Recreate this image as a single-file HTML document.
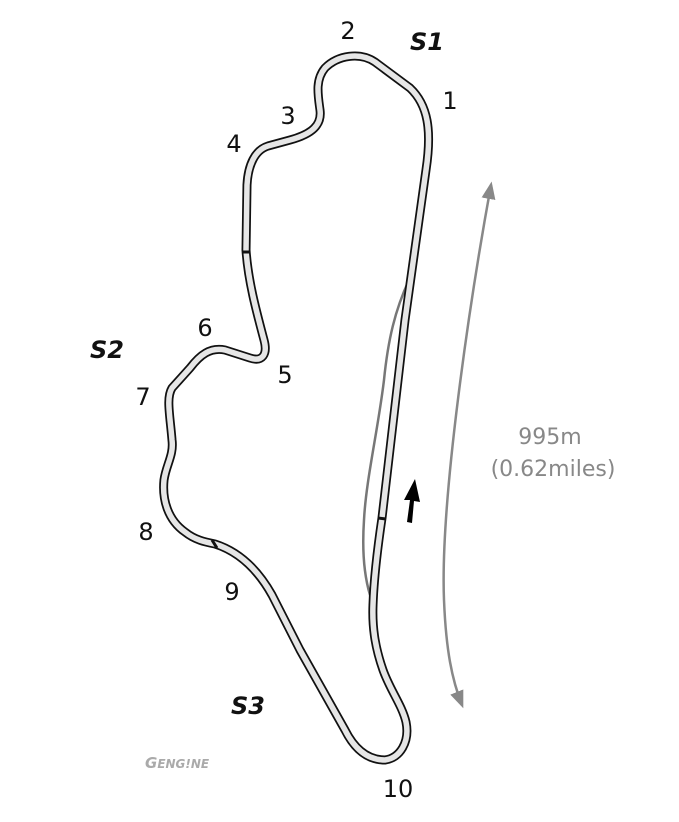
<!DOCTYPE html>
<html><head><meta charset="utf-8"><style>
html,body{margin:0;padding:0;background:#fff;}
svg{display:block;}
text{font-family:"DejaVu Sans","Liberation Sans",sans-serif;}
</style></head><body>
<svg width="679" height="822" viewBox="0 0 679 822" xmlns="http://www.w3.org/2000/svg">
<defs>
<marker id="ah" viewBox="0 0 10 10" refX="8" refY="5" markerWidth="7" markerHeight="7" orient="auto-start-reverse">
<path d="M0,1 L10,5 L0,9 z" fill="#888"/>
</marker>
</defs>
<path d="M409,280 C395,310 388,340 384,380 C378,430 366,480 364,520 C362,550 364,575 370,595" fill="none" stroke="#777" stroke-width="2.5"/>
<g fill="none" stroke-linejoin="round" stroke-linecap="round">
<path d="M382,518 L405,320 L426,170 C432,130 428,105 410,88 L375,62 C360,52 338,55 325,68 C315,80 318,95 320,110 C322,125 312,134 290,140 L268,146 C255,150 248,165 247,185 L246,250 C248,280 256,310 264,340 C268,355 262,362 250,358 L225,350 C210,347 200,355 190,368 L172,388 C166,398 170,415 172,440 C174,455 166,465 164,480 C162,500 168,520 185,532 C195,540 205,542 215,544 C240,552 258,570 272,595 L300,650 L345,730 C355,750 368,760 385,760 C400,758 410,742 406,722 C402,705 390,690 383,670 C376,650 372,630 373,605 C374,575 378,545 382,518" stroke="#111" stroke-width="9"/>
<path d="M382,518 L405,320 L426,170 C432,130 428,105 410,88 L375,62 C360,52 338,55 325,68 C315,80 318,95 320,110 C322,125 312,134 290,140 L268,146 C255,150 248,165 247,185 L246,250 C248,280 256,310 264,340 C268,355 262,362 250,358 L225,350 C210,347 200,355 190,368 L172,388 C166,398 170,415 172,440 C174,455 166,465 164,480 C162,500 168,520 185,532 C195,540 205,542 215,544 C240,552 258,570 272,595 L300,650 L345,730 C355,750 368,760 385,760 C400,758 410,742 406,722 C402,705 390,690 383,670 C376,650 372,630 373,605 C374,575 378,545 382,518" stroke="#e6e6e6" stroke-width="5.5"/>
</g>
<g stroke="#111" stroke-width="3">
<line x1="242" y1="252" x2="250" y2="252"/>
<line x1="212" y1="540" x2="217" y2="548"/>
<line x1="378" y1="518" x2="386" y2="519"/>
</g>
<path d="M407,522 L410,500 L404,500 L415,479 L420,502 L414,501 L412,523 z" fill="#000"/>
<path d="M491,185 C470,300 440,500 444,600 C446,650 452,680 462,705" fill="none" stroke="#888" stroke-width="2.5" marker-start="url(#ah)" marker-end="url(#ah)"/>
<text x="550" y="444" font-size="22" fill="#888" text-anchor="middle">995m</text>
<text x="553" y="476" font-size="22" fill="#888" text-anchor="middle">(0.62miles)</text>
<g font-size="24" fill="#111" text-anchor="middle">
<text x="348" y="39">2</text>
<text x="450" y="109">1</text>
<text x="288" y="124">3</text>
<text x="234" y="152">4</text>
<text x="205" y="336">6</text>
<text x="285" y="383">5</text>
<text x="143" y="405">7</text>
<text x="146" y="540">8</text>
<text x="232" y="600">9</text>
<text x="398" y="797">10</text>
</g>
<g font-size="24" font-weight="bold" font-style="italic" fill="#111" text-anchor="middle">
<text x="427" y="50">S1</text>
<text x="107" y="358">S2</text>
<text x="248" y="714">S3</text>
</g>
<text x="145" y="768" font-size="15" font-weight="bold" font-style="italic" fill="#aaa">G<tspan font-size="12">ENG!NE</tspan></text>
</svg>
</body></html>
